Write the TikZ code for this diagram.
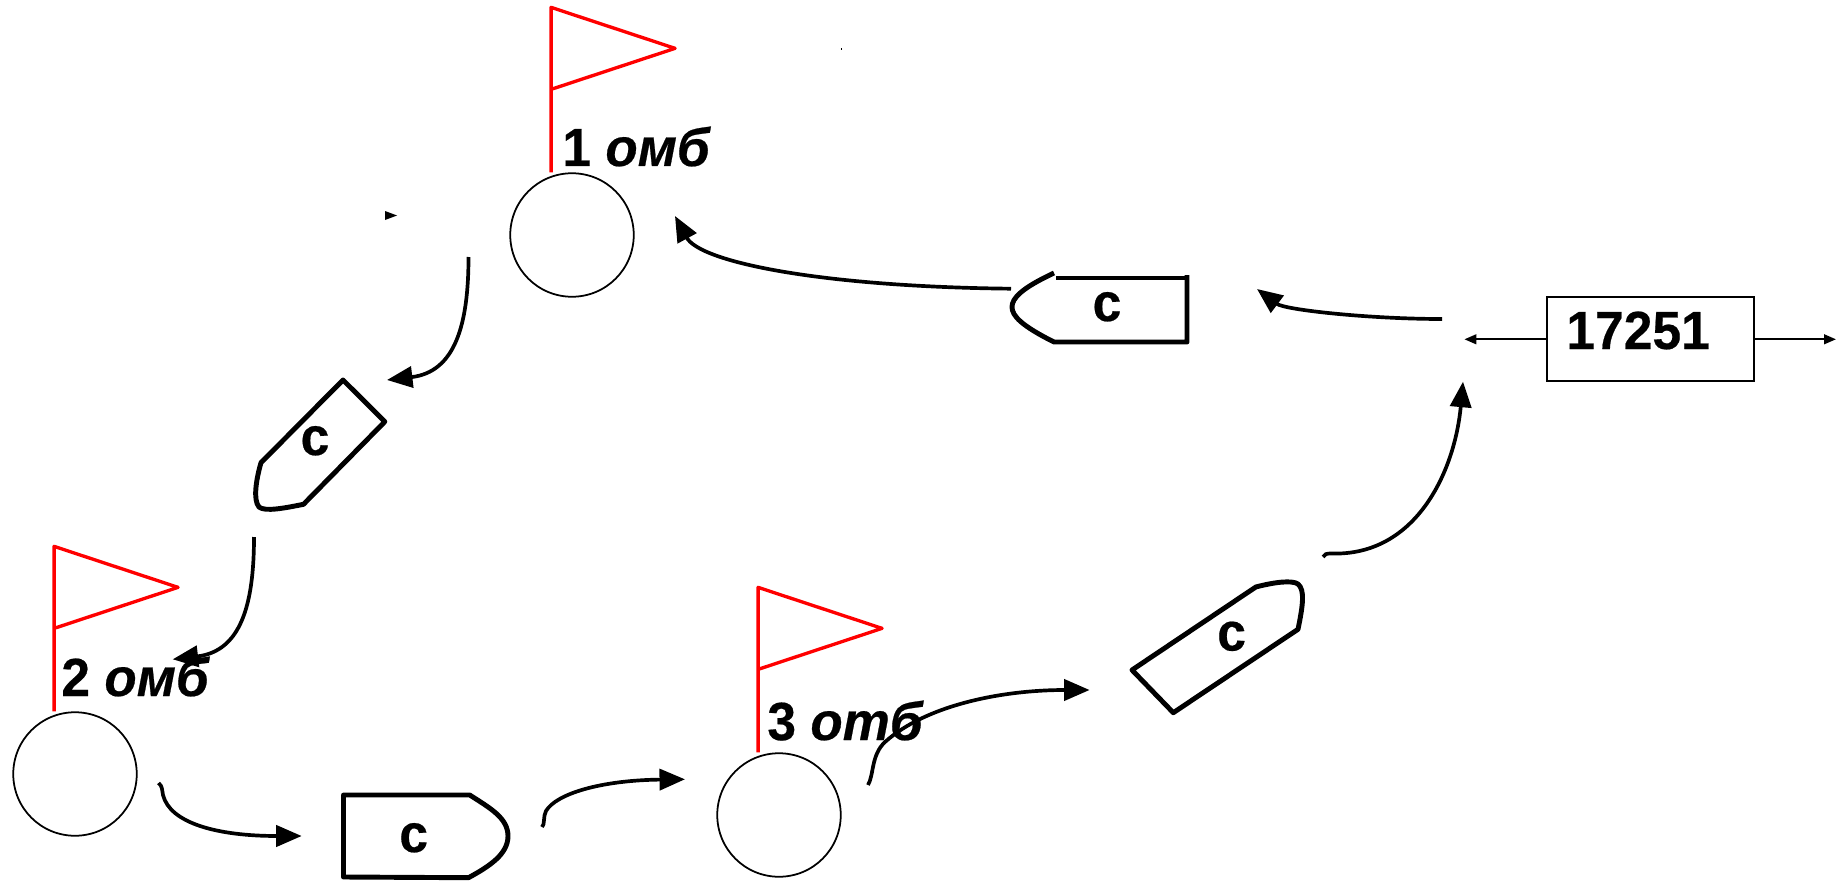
\documentclass[tikz,border=0pt]{standalone}
\usepackage{fontspec}
\setmainfont{Liberation Sans}[BoldFeatures={FakeStretch=0.96,FakeBold=0.4},BoldItalicFeatures={FakeStretch=0.985,FakeBold=0.4}]
\usetikzlibrary{arrows.meta}

\tikzset{
	hull/.style={draw, line width=2.8pt, line join=round},
	lbl/.style={inner sep=0pt, font=\fontsize{30.6}{36}\selectfont\bfseries},
	post/.style={circle, draw, line width=1pt, minimum size=70.3pt, inner sep=0pt},
	flow/.style={line width=2.1pt, -{Triangle[length=14.5pt,width=12pt]}},
	feed/.style={line width=1.2pt, -{Triangle[length=6.8pt,width=5.5pt]}},
	flag/.pic={
			\draw[red, line width=1.9pt, line join=round] (0,0) -- (0,-165) -- (124,-124) -- (0,-83);
		}
}

\begin{document}
\begin{tikzpicture}[x=0.02cm, y=-0.02cm]
		\useasboundingbox (0,0) rectangle (1847,882);

		\node[post] (post1) at (572,235) {};
		\node[post] (post2) at (75,774) {};
		\node[post] (post3) at (779,815) {};

		\foreach \name in {post1,post2,post3} {
				\pic at ([xshift=-11.9pt]\name.north) {flag};
			}

		\node[lbl, anchor=base west] (name1) at (562,166) {1 \textit{омб}};
		\node[lbl, anchor=base west] (name2) at (61,696) {2 \textit{омб}};
		\node[lbl, anchor=base west] (name3) at (767,740) {3 \textit{отб}};

		\draw[hull] (343,380) -- (384.8,421.7) -- (303.5,504.3)
		.. controls (285,508) and (265,512) .. (259,507)
		.. controls (253,500) and (256,480) .. (261,462.7) -- cycle;
		\draw[hull] (343.5,877) -- (343.5,795) -- (469.7,795)
		.. controls (490,808) and (508,818) .. (508,836)
		.. controls (508,854) and (490,866) .. (468.5,877.7) -- cycle;
		\draw[hull] (1132,670) -- (1255.8,587)
		.. controls (1275,582) and (1292,580) .. (1298,584)
		.. controls (1305,590) and (1303,605) .. (1298,629.3)
		-- (1173.3,712.7) -- cycle;
		\draw[hull] (1187,275) -- (1187,342) -- (1054,342)
		.. controls (1022,326) and (1012,316) .. (1012,307)
		.. controls (1012,298) and (1022,288) .. (1054,273);
		\draw[hull] (1056,278) -- (1187,278);

		\node[lbl, anchor=base] (ship1) at (315,455) {с};
		\node[lbl, anchor=base] (ship2) at (413.7,852) {с};
		\node[lbl, anchor=base] (ship3) at (1231.6,650.5) {с};
		\node[lbl, anchor=base] (ship4) at (1107,321) {с};

		\node[draw, line width=1.1pt, minimum width=118pt, minimum height=47.3pt, inner sep=0pt] (num) at (1650.5,339) {};
		\node[lbl, anchor=base west] (numtext) at (1566,349) {17251};

		\coordinate (numl) at (1464.4,339.3);
		\coordinate (numr) at (1836,339.3);
		\draw[feed] (num.west |- numl) -- (numl);
		\draw[feed] (num.east |- numr) -- (numr);

		\coordinate (a1) at (468.5,257);
		\coordinate (a2) at (387,380);
		\coordinate (b1) at (1011,288.7);
		\coordinate (b2) at (675,216);
		\coordinate (c1) at (1442,319);
		\coordinate (c2) at (1257,289);
		\coordinate (d1) at (1323,557);
		\coordinate (d2) at (1331,553.5);
		\coordinate (d3) at (1463,381.7);
		\coordinate (e1) at (868,785);
		\coordinate (e2) at (885,742);
		\coordinate (e3) at (1089.6,690);
		\coordinate (f1) at (542,827);
		\coordinate (f2) at (546,811);
		\coordinate (f3) at (685,779.3);
		\coordinate (g1) at (158.5,783);
		\coordinate (g2) at (163,795);
		\coordinate (g3) at (301.7,836);
		\coordinate (h1) at (254,537);
		\coordinate (h2) at (172.7,659.3);

		\draw[flow] (a1) .. controls +(0,68) and +(68,-8) .. (a2);
		\draw[flow] (b1) .. controls +(-191,-2) and +(25,46) .. (b2);
		\draw[flow] (c1) .. controls +(-72,0) and +(28,21) .. (c2);
		\draw[flow] (d1) .. controls +(1,-3) and +(-4,0) .. (d2)
		.. controls +(86,3) and +(-8,88) .. (d3);
		\draw[flow] (e1) .. controls +(6,-10) and +(-14,13) .. (e2)
		.. controls +(40,-36) and +(-90,0) .. (e3);
		\draw[flow] (f1) .. controls +(3,-2) and +(-3,5) .. (f2)
		.. controls +(10,-17) and +(-85,1) .. (f3);
		\draw[flow] (g1) .. controls +(4,3) and +(-1,-5) .. (g2)
		.. controls +(7,28) and +(-85,0) .. (g3);
		\draw[flow] (h1) .. controls +(0,68) and +(68,-8) .. (h2);

		\fill (385,211) -- (397,215.5) -- (385,220) -- cycle;
		\fill (841,48.5) rectangle (842,50.5);
	\end{tikzpicture}
\end{document}
